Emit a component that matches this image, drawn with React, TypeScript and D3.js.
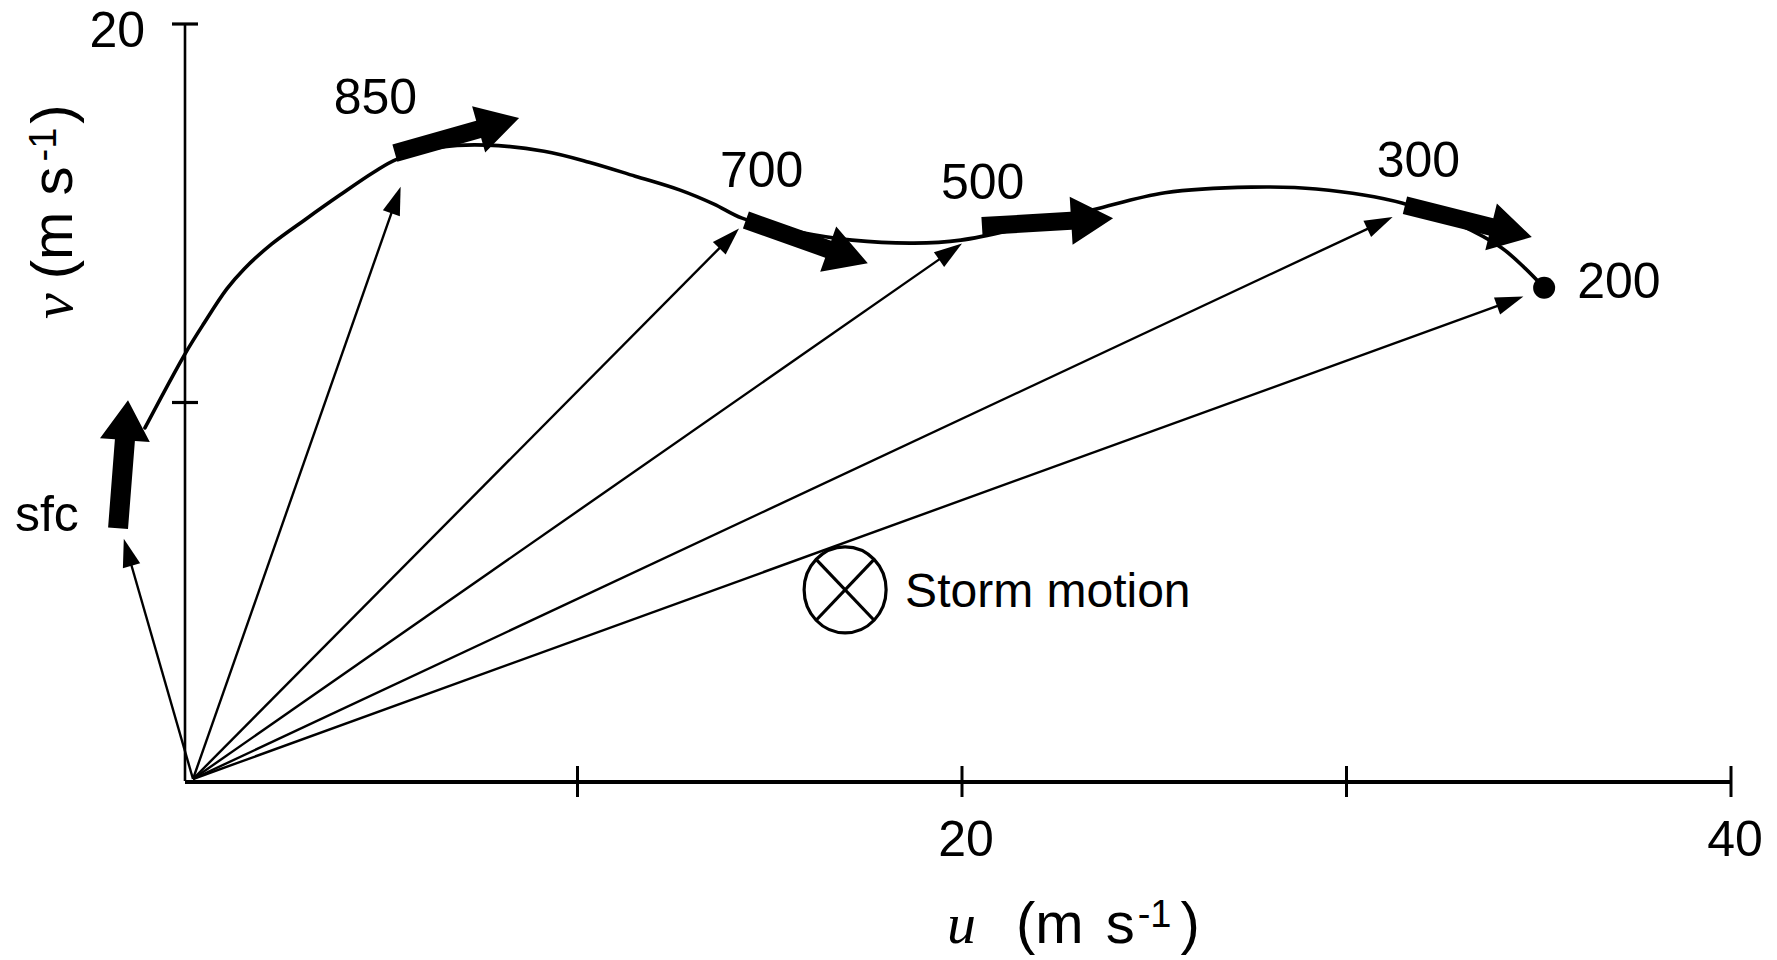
import React from "react";
import * as d3 from "d3";

const W = 1777;
const H = 960;

// Hodograph levels and the wind vector (u, v) at each, m s-1
const levelNames = ["sfc", "850", "700", "500", "300", "200"];
const levelU = [-1.8, 5.4, 14.2, 20.0, 31.2, 34.6];
const levelV = [6.4, 15.7, 14.6, 14.2, 14.9, 12.8];

// Hodograph trace from the surface to 200 hPa
const traceU = [-1.25, -0.21, 0.29, 0.88, 1.33, 2.05, 2.94, 3.82, 4.71, 5.31, 6.48, 7.65, 9.13, 10.3, 11.5, 12.67, 13.55, 14.28, 15.79, 17.14, 18.75, 19.97, 21.51, 23.41, 25.28, 27.52, 29.21, 31.44, 32.95, 34.04, 34.64, 35.14];
const traceV = [9.33, 11.28, 12.1, 13.0, 13.53, 14.19, 14.85, 15.48, 16.09, 16.43, 16.75, 16.8, 16.64, 16.35, 15.98, 15.61, 15.24, 14.87, 14.5, 14.29, 14.21, 14.29, 14.61, 15.09, 15.54, 15.69, 15.64, 15.27, 14.69, 14.08, 13.55, 13.03];

// Shear arrows drawn along the trace (tail -> tip)
const shearTailU = [-1.95, 5.25, 14.38, 20.52, 31.52];
const shearTailV = [6.68, 16.59, 14.82, 14.66, 15.21];
const shearTipU = [-1.69, 8.48, 17.55, 23.93, 34.82];
const shearTipV = [10.06, 17.52, 13.68, 14.87, 14.37];

// Top of the hodograph (200 hPa) and the storm motion
const topU = 35.14;
const topV = 13.03;
const stormU = 16.96;
const stormV = 5.05;

const xTickValues = [10, 20, 30, 40];
const xTickLabels = ["", "20", "", "40"];
const yTickValues = [10, 20];
const yTickLabels = ["", "20"];

// label placement relative to each level's vector tip (px)
const labelDx = [-45, -67, -19, -21, -16, 33];
const labelDy = [-8, -73, -41, -45, -40, 10];
const labelAnchor = ["end", "start", "start", "start", "start", "start"];

const SANS = "'Liberation Sans', Arial, sans-serif";
const SERIF = "'Liberation Serif', 'Times New Roman', serif";

function fatArrow(x0: number, y0: number, x1: number, y1: number, bw: number, hw: number, hl: number) {
  const dx = x1 - x0;
  const dy = y1 - y0;
  const L = Math.hypot(dx, dy);
  const ux = dx / L;
  const uy = dy / L;
  const nx = -uy;
  const ny = ux;
  const bx = x1 - ux * hl;
  const by = y1 - uy * hl;
  const pts = [
    [x0 + nx * bw, y0 + ny * bw],
    [bx + nx * bw, by + ny * bw],
    [bx + nx * hw, by + ny * hw],
    [x1, y1],
    [bx - nx * hw, by - ny * hw],
    [bx - nx * bw, by - ny * bw],
    [x0 - nx * bw, y0 - ny * bw],
  ];
  return "M" + pts.map((p) => p[0].toFixed(1) + "," + p[1].toFixed(1)).join("L") + "Z";
}

function thinArrow(x0: number, y0: number, x1: number, y1: number, hw: number, hl: number) {
  const dx = x1 - x0;
  const dy = y1 - y0;
  const L = Math.hypot(dx, dy);
  const ux = dx / L;
  const uy = dy / L;
  const nx = -uy;
  const ny = ux;
  const bx = x1 - ux * hl;
  const by = y1 - uy * hl;
  return {
    line: { x1: x0, y1: y0, x2: bx + ux * 2, y2: by + uy * 2 },
    head: `M${x1},${y1}L${bx + nx * hw},${by + ny * hw}L${bx - nx * hw},${by - ny * hw}Z`,
  };
}

export default function App() {
  const x = d3.scaleLinear().domain([0, 40]).range([193, 1731]);
  const y = d3.scaleLinear().domain([0, 20]).range([781, 24]);

  const yAxisX = x(0) - 8;
  const x0 = x(0);
  const y0 = y(0);

  const trace = d3
    .line<number>()
    .x((i) => x(traceU[i]))
    .y((i) => y(traceV[i]))
    .curve(d3.curveCatmullRom.alpha(0.5))(traceU.map((_, i) => i));

  const stormX = x(stormU);
  const stormY = y(stormV);
  const srx = 41;
  const sry = 43;
  const k = Math.SQRT1_2;

  return (
    <svg width={W} height={H} style={{ display: "block", position: "absolute", left: 0, top: 0, background: "#fff" }}>
      <rect x={0} y={0} width={W} height={H} fill="#fff" />

      {/* axes */}
      <g stroke="#000" fill="none" strokeLinecap="butt">
        <line x1={yAxisX} y1={y0} x2={yAxisX} y2={y(20)} strokeWidth={2.6} />
        {yTickValues.map((t) => (
          <line key={"yt" + t} x1={yAxisX - 13} x2={yAxisX + 13} y1={y(t)} y2={y(t)} strokeWidth={3.2} />
        ))}
        <line x1={yAxisX} y1={y0 + 1} x2={x(40)} y2={y0 + 1} strokeWidth={3.8} />
        {xTickValues.map((t) => (
          <line key={"xt" + t} x1={x(t)} x2={x(t)} y1={y0 - 15} y2={y0 + 16} strokeWidth={3} />
        ))}
      </g>
      <g fontFamily={SANS} fontSize={50} fill="#000">
        {yTickValues.map((t, i) => (
          <text key={"yl" + t} x={yAxisX - 40} y={y(t) + 23} textAnchor="end">
            {yTickLabels[i]}
          </text>
        ))}
        {xTickValues.map((t, i) => (
          <text key={"xl" + t} x={x(t) + 4} y={y0 + 75} textAnchor="middle">
            {xTickLabels[i]}
          </text>
        ))}
      </g>

      {/* axis titles */}
      <text x={947} y={943} fontSize={58} fill="#000">
        <tspan fontFamily={SERIF} fontStyle="italic">u</tspan>
        <tspan fontFamily={SANS} dx={40}>(m</tspan>
        <tspan fontFamily={SANS} dx={22}>s</tspan>
        <tspan fontFamily={SANS} fontSize={38} dx={3} dy={-16}>-1</tspan>
        <tspan fontFamily={SANS} dx={9} dy={16}>)</tspan>
      </text>
      <text transform="translate(72,319) rotate(-90)" fontSize={58} fill="#000">
        <tspan fontFamily={SERIF} fontStyle="italic">v</tspan>
        <tspan fontFamily={SANS} dx={14}>(m s</tspan>
        <tspan fontFamily={SANS} fontSize={38} dx={5} dy={-16}>-1</tspan>
        <tspan fontFamily={SANS} dx={4} dy={16}>)</tspan>
      </text>

      {/* wind vectors from the origin */}
      <g stroke="#000" fill="#000">
        {levelU.map((u, i) => {
          const a = thinArrow(x0, y0 - 2, x(u), y(levelV[i]), 9, 28);
          return (
            <g key={"vec" + i}>
              <line {...a.line} strokeWidth={2.4} />
              <path d={a.head} stroke="none" />
            </g>
          );
        })}
      </g>

      {/* hodograph trace */}
      <path d={trace || ""} fill="none" stroke="#000" strokeWidth={3.6} strokeLinejoin="round" strokeLinecap="round" />
      <circle cx={x(topU)} cy={y(topV)} r={11} fill="#000" />

      {/* shear arrows */}
      <g fill="#000">
        {shearTailU.map((u, i) => (
          <path
            key={"sh" + i}
            d={
              i === 0
                ? fatArrow(x(u), y(shearTailV[i]), x(shearTipU[i]), y(shearTipV[i]), 10, 25, 40)
                : fatArrow(x(u), y(shearTailV[i]), x(shearTipU[i]), y(shearTipV[i]), 9, 24, 42)
            }
          />
        ))}
      </g>

      {/* level labels */}
      <g fontFamily={SANS} fontSize={50} fill="#000">
        {levelNames.map((name, i) => {
          const px = i === 5 ? x(topU) : x(levelU[i]);
          const py = i === 5 ? y(topV) : y(levelV[i]);
          return (
            <text key={"lab" + i} x={px + labelDx[i]} y={py + labelDy[i]} textAnchor={labelAnchor[i] as any}>
              {name}
            </text>
          );
        })}
      </g>

      {/* storm motion */}
      <g stroke="#000" strokeWidth={3.2} fill="none">
        <ellipse cx={stormX} cy={stormY} rx={srx} ry={sry} fill="#fff" />
        <line x1={stormX - srx * k} y1={stormY - sry * k} x2={stormX + srx * k} y2={stormY + sry * k} />
        <line x1={stormX - srx * k} y1={stormY + sry * k} x2={stormX + srx * k} y2={stormY - sry * k} />
      </g>
      <text x={stormX + 60} y={stormY + 17} fontFamily={SANS} fontSize={48} fill="#000">
        Storm motion
      </text>
    </svg>
  );
}
